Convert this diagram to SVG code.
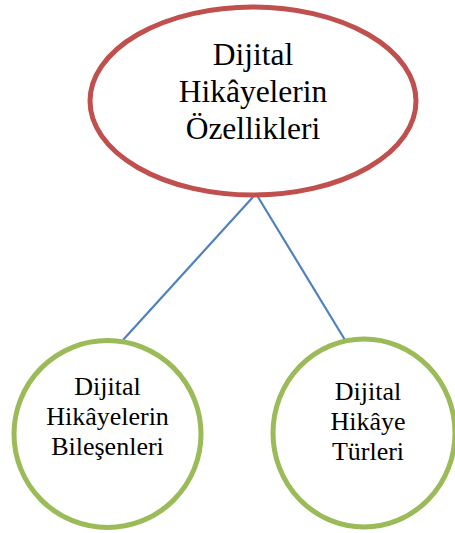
<svg xmlns="http://www.w3.org/2000/svg" width="455" height="533" viewBox="0 0 455 533">
  <style>
    .root { fill: #ffffff; stroke: #c0504d; stroke-width: 5; }
    .leaf { fill: #ffffff; stroke: #9bbb59; stroke-width: 5; }
    .link { stroke: #4f81bd; stroke-width: 2.2; fill: none; }
    .label { font-family: "Liberation Serif", "Times New Roman", Times, serif; fill: #000000; text-anchor: middle; }
    .big { font-size: 31.5px; }
    .small { font-size: 26px; }
  </style>
  <rect width="455" height="533" fill="#ffffff"/>
  <g id="connectors">
    <line class="link" x1="253" y1="197" x2="123" y2="340"/>
    <line class="link" x1="258" y1="197" x2="345" y2="340"/>
  </g>
  <g id="node-ozellikler">
    <ellipse class="root" cx="253" cy="101" rx="163" ry="94"/>
    <text class="label big" x="253" y="65">Dijital</text>
    <text class="label big" x="253" y="102">Hikâyelerin</text>
    <text class="label big" x="253" y="139">Özellikleri</text>
  </g>
  <g id="node-bilesenler">
    <circle class="leaf" cx="107.5" cy="434" r="93.5"/>
    <text class="label small" x="107.5" y="395">Dijital</text>
    <text class="label small" x="107.5" y="425">Hikâyelerin</text>
    <text class="label small" x="107.5" y="455">Bileşenleri</text>
  </g>
  <g id="node-turler">
    <ellipse class="leaf" cx="364" cy="433" rx="91" ry="94"/>
    <text class="label small" x="368" y="400">Dijital</text>
    <text class="label small" x="368" y="430">Hikâye</text>
    <text class="label small" x="368" y="460">Türleri</text>
  </g>
</svg>
